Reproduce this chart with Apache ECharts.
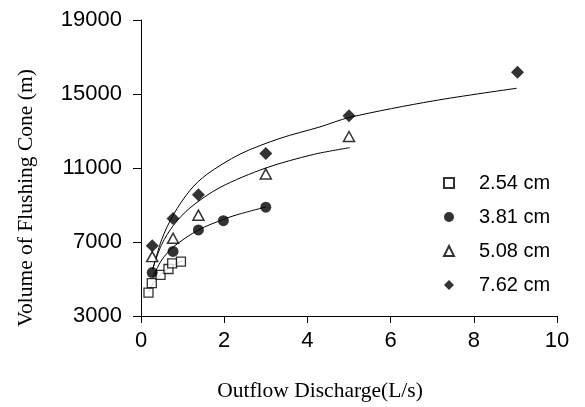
<!DOCTYPE html>
<html>
<head>
<meta charset="utf-8">
<script src="https://cdn.jsdelivr.net/npm/echarts@6/dist/echarts.min.js"></script>
<style>
  html, body { margin: 0; padding: 0; background: #fff; }
  #chart { width: 585px; height: 407px; }
</style>
</head>
<body>
<div id="chart"></div>
<script>
// measured points
var x254 = [0.18, 0.26, 0.47, 0.66, 0.75, 0.96];
var y254 = [4260, 4780, 5220, 5540, 5850, 5940];
var x381 = [0.27, 0.77, 1.38, 1.98, 3.0];
var y381 = [5350, 6490, 7650, 8150, 8880];
var x508 = [0.27, 0.77, 1.38, 3.0, 5.0];
var y508 = [6210, 7200, 8450, 10680, 12700];
var x762 = [0.27, 0.77, 1.38, 3.0, 5.0, 9.05];
var y762 = [6800, 8270, 9560, 11790, 13830, 16170];

// trend lines
var fx254 = [0.18, 0.3, 0.47, 0.66, 1.0];
var fy254 = [4300, 4800, 5240, 5580, 6000];
var fx381 = [0.28, 0.5, 0.78, 1.38, 2.0, 2.38, 3.0];
var fy381 = [5100, 6030, 6740, 7650, 8240, 8520, 8890];
var fx508 = [0.28, 0.5, 0.78, 1.18, 1.9, 3.0, 4.14, 5.02];
var fy508 = [5550, 6880, 7900, 8850, 9950, 11000, 11730, 12100];
var fx762 = [0.28, 0.5, 0.78, 1.18, 1.58, 2.38, 3.34, 4.3, 5.02, 7.03, 9.03];
var fy762 = [5500, 7150, 8480, 9800, 10650, 11750, 12600, 13220, 13740, 14630, 15310];

var names = ['2.54 cm', '3.81 cm', '5.08 cm', '7.62 cm'];

function pairs(xs, ys) {
    return xs.map(function (x, i) { return [x, ys[i]]; });
}

function fit(xs, ys) {
    return {
        type: 'line',
        data: pairs(xs, ys),
        smooth: 0.3,
        showSymbol: false,
        silent: true,
        z: 1,
        lineStyle: { color: '#000', width: 1 }
    };
}

var chart = echarts.init(document.getElementById('chart'));

chart.setOption({
    animation: false,
    grid: { left: 141, right: 28, top: 20, bottom: 88 },
    legend: {
        data: names,
        orient: 'vertical',
        left: 438,
        top: 168,
        itemWidth: 10,
        itemHeight: 10,
        itemGap: 14,
        textStyle: {
            fontFamily: 'Liberation Sans, Arial',
            fontSize: 20,
            lineHeight: 20,
            color: '#000',
            padding: [0, 0, 0, 20]
        }
    },
    xAxis: {
        type: 'value',
        min: 0,
        max: 10,
        interval: 2,
        name: 'Outflow Discharge(L/s)',
        nameLocation: 'middle',
        nameGap: 64,
        nameTextStyle: {
            fontFamily: 'Liberation Serif, Times New Roman',
            fontSize: 21.5,
            color: '#000',
            padding: [0, 58, 0, 0]
        },
        axisLine: { lineStyle: { color: '#000', width: 1 } },
        axisTick: { inside: false, length: 7, lineStyle: { color: '#000' } },
        axisLabel: {
            margin: 14,
            fontFamily: 'Liberation Sans, Arial',
            fontSize: 22,
            color: '#000'
        },
        splitLine: { show: false }
    },
    yAxis: {
        type: 'value',
        min: 3000,
        max: 19000,
        interval: 4000,
        name: 'Volume of Flushing Cone (m)',
        nameLocation: 'middle',
        nameGap: 104,
        nameTextStyle: {
            fontFamily: 'Liberation Serif, Times New Roman',
            fontSize: 21.5,
            color: '#000',
            padding: [0, 60, 0, 0]
        },
        axisLine: { show: true, lineStyle: { color: '#000', width: 1 } },
        axisTick: { show: true, inside: false, length: 8, lineStyle: { color: '#000' } },
        axisLabel: {
            margin: 19,
            fontFamily: 'Liberation Sans, Arial',
            fontSize: 22,
            color: '#000',
            formatter: function (v) { return String(v); }
        },
        splitLine: { show: false }
    },
    series: [
        fit(fx254, fy254),
        fit(fx381, fy381),
        fit(fx508, fy508),
        fit(fx762, fy762),
        {
            name: names[0],
            type: 'scatter',
            symbol: 'rect',
            symbolSize: 9,
            z: 3,
            data: pairs(x254, y254),
            itemStyle: { color: '#fff', borderColor: '#000', borderWidth: 1.3 }
        },
        {
            name: names[1],
            type: 'scatter',
            symbol: 'circle',
            symbolSize: 11,
            z: 3,
            data: pairs(x381, y381),
            itemStyle: { color: '#000' }
        },
        {
            name: names[2],
            type: 'scatter',
            symbol: 'triangle',
            symbolSize: [11, 10],
            z: 3,
            data: pairs(x508, y508),
            itemStyle: { color: '#fff', borderColor: '#000', borderWidth: 1.5 }
        },
        {
            name: names[3],
            type: 'scatter',
            symbol: 'diamond',
            symbolSize: 13,
            z: 3,
            data: pairs(x762, y762),
            itemStyle: { color: '#000' }
        }
    ]
});
</script>
</body>
</html>
